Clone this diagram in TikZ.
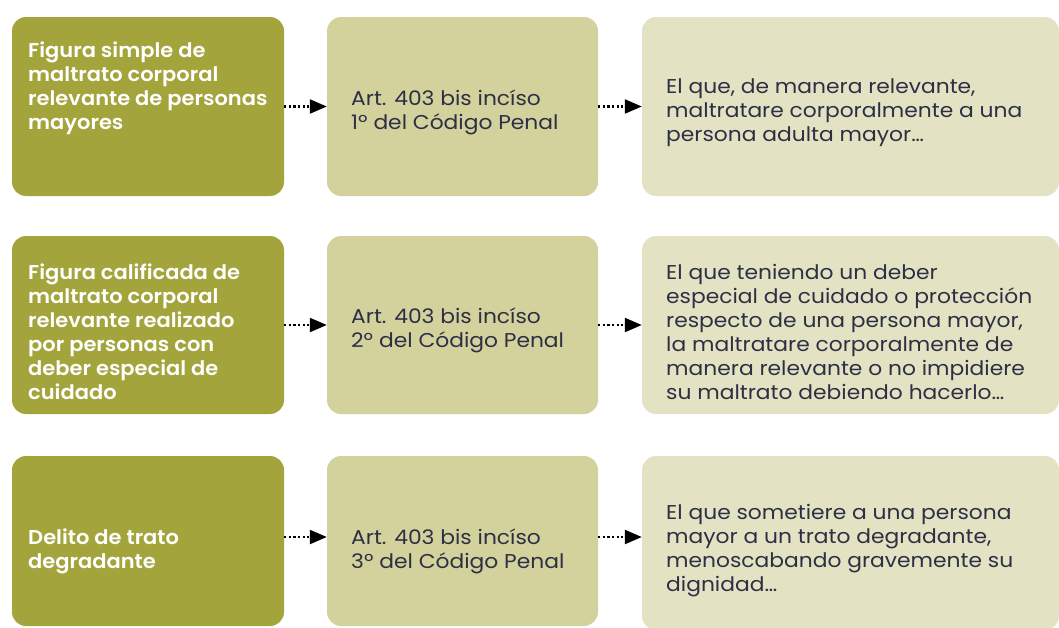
\documentclass[tikz,border=0pt]{standalone}
\usepackage{fontspec}
\setmainfont{Poppins}[BoldFont={Poppins SemiBold}, FakeStretch=1.09, BoldFeatures={FakeStretch=1.05}]
\usetikzlibrary{arrows.meta, positioning}

\definecolor{figolive}{HTML}{A3A43C}
\definecolor{artgreen}{HTML}{D3D29C}
\definecolor{quotecream}{HTML}{E3E3C4}
\definecolor{inkblue}{HTML}{2D2F45}

\begin{document}
\begin{tikzpicture}[
    x=1pt, y=-1pt,
    box/.style={rounded corners=14pt, inner sep=0pt},
    figbox/.style={box, fill=figolive, minimum width=272pt},
    artbox/.style={box, fill=artgreen, minimum width=271pt},
    quotebox/.style={box, fill=quotecream, minimum width=417pt},
    figtext/.style={anchor=west, align=left, inner sep=0pt, text=white, font=\fontsize{20}{24}\selectfont\bfseries},
    arttext/.style={figtext, text=inkblue, font=\fontsize{20}{24}\selectfont},
    arrow/.style={-{Triangle[length=17pt, width=14pt]}, line width=2.2pt, dash pattern=on 2.2pt off 2.4pt, black}
]
    \useasboundingbox (0,0) rectangle (1059,627);

    % Three rows: offence, article, wording of the law.
    \node[figbox, minimum height=179pt] (fig1) at (148,106.5) {};
    \node[artbox, minimum height=179pt] (art1) at (462.5,106.5) {};
    \node[quotebox, minimum height=179pt] (quote1) at (850.5,106.5) {};

    \node[figbox, minimum height=178pt] (fig2) at (148,325) {};
    \node[artbox, minimum height=178pt] (art2) at (462.5,325) {};
    \node[quotebox, minimum height=178pt] (quote2) at (850.5,325) {};

    \node[figbox, minimum height=170pt] (fig3) at (148,541) {};
    \node[artbox, minimum height=170pt] (art3) at (462.5,541) {};
    \node[quotebox, minimum height=174pt] (quote3) at (850.5,543) {};

    % Texts sit left-aligned inside each box.
    \node[figtext] (figlbl1) at (28,88.5) {Figura simple de\\maltrato corporal\\relevante de personas\\mayores};
    \node[arttext] (artlbl1) at (351,112.5) {Art. 403 bis incíso\\1º del Código Penal};
    \node[arttext] (quotelbl1) at (666,113) {El que, de manera relevante,\\maltratare corporalmente a una\\persona adulta mayor…};

    \node[figtext] (figlbl2) at (28,332) {Figura calificada de\\maltrato corporal\\relevante realizado\\por personas con\\deber especial de\\cuidado};
    \node[arttext] (artlbl2) at (351,330.5) {Art. 403 bis incíso\\2º del Código Penal};
    \node[arttext] (quotelbl2) at (666,332) {El que teniendo un deber\\especial de cuidado o protección\\respecto de una persona mayor,\\la maltratare corporalmente de\\manera relevante o no impidiere\\su maltrato debiendo hacerlo…};

    \node[figtext] (figlbl3) at (28,551.5) {Delito de trato\\degradante};
    \node[arttext] (artlbl3) at (351,551.5) {Art. 403 bis incíso\\3º del Código Penal};
    \node[arttext] (quotelbl3) at (666,550.5) {El que sometiere a una persona\\mayor a un trato degradante,\\menoscabando gravemente su\\dignidad…};

    % Dotted arrows between the columns.
    \draw[arrow] (fig1) -- (art1);
    \draw[arrow] (art1) -- (quote1);
    \draw[arrow] (fig2) -- (art2);
    \draw[arrow] (art2) -- (quote2);
    \draw[arrow] ([yshift=4pt]fig3.east) -- ([yshift=4pt]art3.west);
    \draw[arrow] ([yshift=4pt]art3.east) -- ([yshift=4pt]art3.east -| quote3.west);

\end{tikzpicture}
\end{document}
